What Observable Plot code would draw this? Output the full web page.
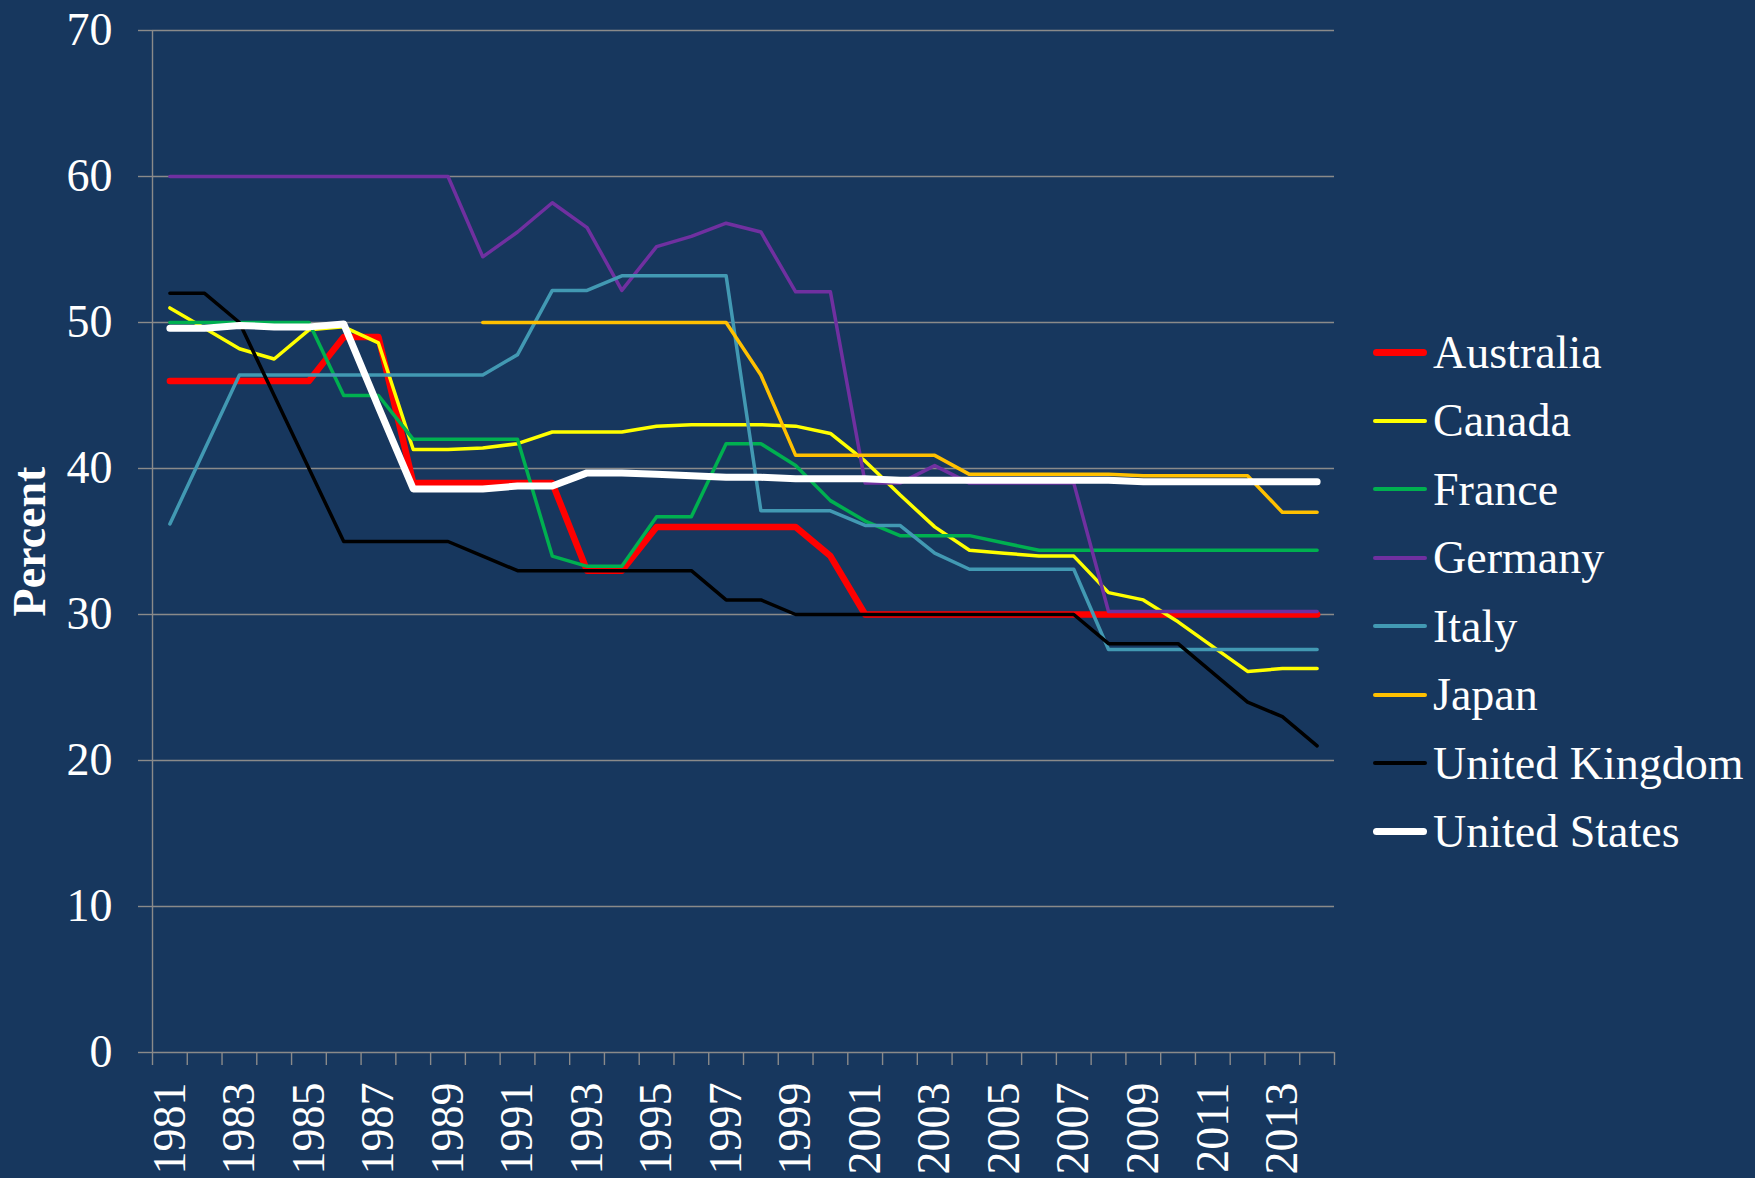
<!DOCTYPE html>
<html><head><meta charset="utf-8">
<script src="https://cdn.jsdelivr.net/npm/d3@7"></script>
<script src="https://cdn.jsdelivr.net/npm/@observablehq/plot@0.6"></script>
<style>
html,body{margin:0;padding:0;background:#17375E;}
#wrap{position:relative;width:1755px;height:1178px;font-family:"Liberation Serif","Times New Roman",serif;}
#legend{position:absolute;left:1373px;top:318px;}
.row{display:flex;align-items:center;height:68.5px;color:#fff;font-size:46px;white-space:nowrap;}
.sw{width:54px;margin-right:6px;border-radius:4px;}
</style></head><body><div id="wrap"></div>
<script>
const years = d3.range(1981, 2015);
const countries = ["Australia","Canada","France","Germany","Italy","Japan","United Kingdom","United States"];
const australia = [46,46,46,46,46,49,49,39,39,39,39,39,33,33,36,36,36,36,36,34,30,30,30,30,30,30,30,30,30,30,30,30,30,30];
const canada = [51.0,49.6,48.2,47.5,49.5,49.7,48.6,41.3,41.3,41.4,41.7,42.5,42.5,42.5,42.9,43.0,43.0,43.0,42.9,42.4,40.5,38.2,36.0,34.4,34.2,34.0,34.0,31.5,31.0,29.5,27.8,26.1,26.3,26.3];
const france = [50,50,50,50,50,45,45,42,42,42,42,34,33.3,33.3,36.7,36.7,41.7,41.7,40.2,37.8,36.4,35.4,35.4,35.4,34.9,34.4,34.4,34.4,34.4,34.4,34.4,34.4,34.4,34.4];
const germany = [60,60,60,60,60,60,60,60,60,54.5,56.2,58.2,56.5,52.2,55.2,55.9,56.8,56.2,52.1,52.1,39.0,39.0,40.2,39.0,39.0,39.0,39.0,30.2,30.2,30.2,30.2,30.2,30.2,30.2];
const italy = [36.2,41.3,46.4,46.4,46.4,46.4,46.4,46.4,46.4,46.4,47.8,52.2,52.2,53.2,53.2,53.2,53.2,37.1,37.1,37.1,36.1,36.1,34.2,33.1,33.1,33.1,33.1,27.6,27.6,27.6,27.6,27.6,27.6,27.6];
const japan = [null,null,null,null,null,null,null,null,null,50,50,50,50,50,50,50,50,46.4,40.9,40.9,40.9,40.9,40.9,39.6,39.6,39.6,39.6,39.6,39.5,39.5,39.5,39.5,37.0,37.0];
const unitedKingdom = [52,52,50,45,40,35,35,35,35,34,33,33,33,33,33,33,31,31,30,30,30,30,30,30,30,30,30,28,28,28,26,24,23,21];
const unitedStates = [49.6,49.6,49.8,49.7,49.7,49.9,44.2,38.6,38.6,38.6,38.8,38.8,39.7,39.7,39.6,39.5,39.4,39.4,39.3,39.3,39.3,39.2,39.2,39.2,39.2,39.2,39.2,39.2,39.1,39.1,39.1,39.1,39.1,39.1];
const yTicks = [0,10,20,30,40,50,60,70];
const xLabelYears = d3.range(1981, 2014, 2);

const valuesByCountry = [australia, canada, france, germany, italy, japan, unitedKingdom, unitedStates];
const colors = ["#FF0000","#FFFF00","#00B050","#7030A0","#4299B3","#FFC000","#000000","#FFFFFF"];
const widths = [6.5,3.5,3.5,3.5,3.5,3.5,3.5,7];

const xDomain = [years[0]-0.5, years[years.length-1]+0.5];
const yDomain = [0, 70];
const boundaries = d3.range(xDomain[0], xDomain[1]+0.01, 1);
const grey = "#8a8a8a";

const data = countries.flatMap((c, k) => years.map((yr, i) => ({country: c, year: yr, value: valuesByCountry[k][i]})));

const lines = countries.map((c, k) => Plot.line(data.filter(d => d.country === c), {
  x: "year", y: "value", stroke: colors[k], strokeWidth: widths[k],
  strokeLinejoin: "round", strokeLinecap: "round"
}));

const chart = Plot.plot({
  width: 1755, height: 1178,
  marginLeft: 152, marginRight: 421, marginTop: 30, marginBottom: 126,
  style: {background: "#17375E", color: "white", fontFamily: "'Liberation Serif','Times New Roman',serif", overflow: "visible"},
  x: {type: "linear", domain: xDomain, label: null},
  y: {domain: yDomain, label: null},
  marks: [
    Plot.gridY(yTicks, {stroke: grey, strokeOpacity: 1, strokeWidth: 1.4}),
    Plot.ruleX([xDomain[0]], {stroke: grey, strokeWidth: 1.4}),
    Plot.axisY({ticks: yTicks, tickSize: 14, tickPadding: 26, fontSize: 46, stroke: grey, strokeWidth: 1.4, fill: "white", label: null}),
    Plot.axisX({ticks: boundaries, tickSize: 13, tickFormat: () => "", stroke: grey, strokeWidth: 1.4, label: null}),
    Plot.axisX({ticks: xLabelYears, tickSize: 0, tickPadding: 30, tickRotate: -90, tickFormat: "d", fontSize: 46, fill: "white", label: null}),
    ...lines,
    Plot.text(["Percent"], {text: d => d, x: () => xDomain[0], y: () => (yDomain[0] + yDomain[1]) / 2, rotate: -90, dx: -122, fontSize: 46, fontWeight: "bold", fill: "white"})
  ]
});

const wrap = document.getElementById("wrap");
wrap.appendChild(chart);
const legend = document.createElement("div");
legend.id = "legend";
countries.forEach((c, k) => {
  const row = document.createElement("div");
  row.className = "row";
  const sw = document.createElement("span");
  sw.className = "sw";
  sw.style.height = (k === 0 || k === 7 ? 7 : 4) + "px";
  sw.style.background = colors[k];
  const t = document.createElement("span");
  t.textContent = c;
  row.appendChild(sw); row.appendChild(t);
  legend.appendChild(row);
});
wrap.appendChild(legend);
</script>
</body></html>
